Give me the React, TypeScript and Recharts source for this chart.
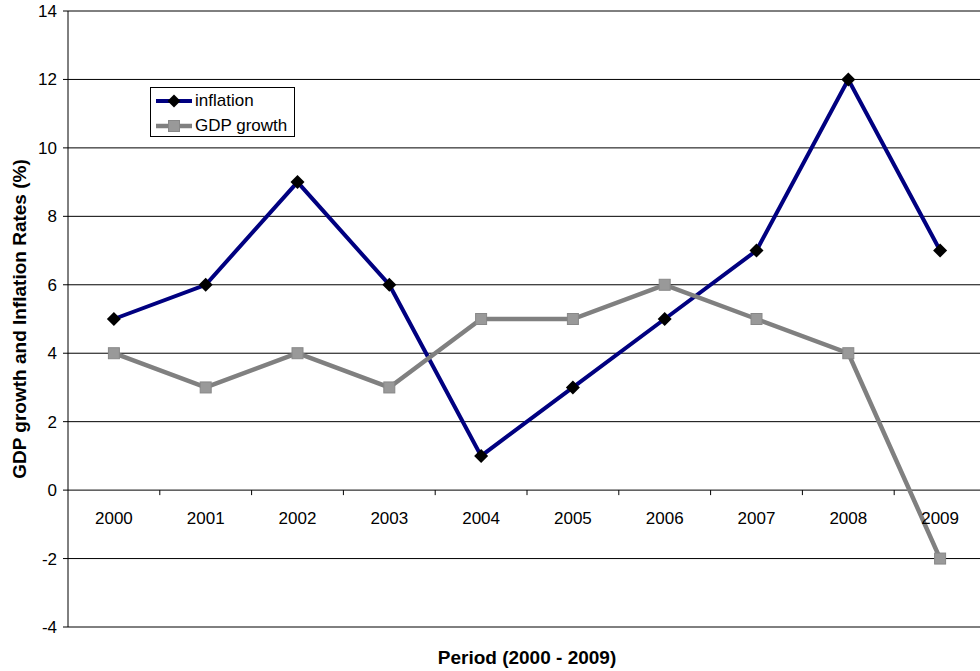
import React from 'react';
import { LineChart, Line, XAxis, YAxis, CartesianGrid, Legend } from 'recharts';

const years = ['2000', '2001', '2002', '2003', '2004', '2005', '2006', '2007', '2008', '2009'];
const inflation = [5, 6, 9, 6, 1, 3, 5, 7, 12, 7];
const gdpGrowth = [4, 3, 4, 3, 5, 5, 6, 5, 4, -2];
const yTicks = [-4, -2, 0, 2, 4, 6, 8, 10, 12, 14];

const data = years.map((y, i) => ({ year: y, inflation: inflation[i], gdp: gdpGrowth[i] }));

const FONT = '"Liberation Sans", Arial, sans-serif';
const W = 990;
const H = 671;
const M = { top: 11, right: 4, bottom: 0, left: 0 };
const X_AXIS_H = 44;
const Y_AXIS_W = 68;
const PLOT_H = H - M.top - M.bottom - X_AXIS_H;
const PLOT_W = W - M.left - M.right - Y_AXIS_W;
const Y_MIN = -4;
const Y_MAX = 14;
const HALF_BAND = PLOT_W / years.length / 2;
const ZERO_Y = M.top + (PLOT_H * (Y_MAX - 0)) / (Y_MAX - Y_MIN);

const NAVY = '#000080';
const GRAY = '#808080';

const Diamond = (props: any) => {
  const { cx, cy } = props;
  if (cx == null || cy == null) return null;
  const r = 7;
  return <polygon points={`${cx},${cy - r} ${cx + r},${cy} ${cx},${cy + r} ${cx - r},${cy}`} fill="#000" />;
};

const Square = (props: any) => {
  const { cx, cy } = props;
  if (cx == null || cy == null) return null;
  const s = 11;
  return <rect x={cx - s / 2} y={cy - s / 2} width={s} height={s} fill="#999999" stroke="#888888" strokeWidth={1} />;
};

const XTick = (props: any) => {
  const { x, index } = props;
  const last = index === years.length - 1;
  return (
    <g>
      <text x={x} y={ZERO_Y + 34} textAnchor="middle" fontSize={17} fontFamily={FONT} fill="#000">
        {props.payload.value}
      </text>
      {!last && (
        <line x1={x + HALF_BAND} x2={x + HALF_BAND} y1={ZERO_Y} y2={ZERO_Y + 5} stroke="#000" strokeWidth={1} />
      )}
    </g>
  );
};

const LegendContent = () => (
  <div
    style={{
      border: '1px solid #000',
      background: '#fff',
      width: 143,
      height: 48,
      fontFamily: FONT,
      fontSize: 17,
      color: '#000',
      boxSizing: 'content-box',
    }}
  >
    <div style={{ display: 'flex', alignItems: 'center', height: 25, paddingLeft: 5 }}>
      <svg width={36} height={14} style={{ marginRight: 3 }}>
        <line x1={0} x2={36} y1={7} y2={7} stroke={NAVY} strokeWidth={4} />
        <polygon points="18,0.5 24.5,7 18,13.5 11.5,7" fill="#000" />
      </svg>
      <span>inflation</span>
    </div>
    <div style={{ display: 'flex', alignItems: 'center', height: 25, paddingLeft: 5 }}>
      <svg width={36} height={14} style={{ marginRight: 3 }}>
        <line x1={0} x2={36} y1={7} y2={7} stroke={GRAY} strokeWidth={4.5} />
        <rect x={12.5} y={1.5} width={11} height={11} fill="#999999" stroke="#888888" />
      </svg>
      <span>GDP growth</span>
    </div>
  </div>
);

export default function App() {
  return (
    <div style={{ position: 'absolute', left: 0, top: 0, width: W, height: H, background: '#fff' }}>
      <LineChart width={W} height={H} data={data} margin={M}>
        <CartesianGrid horizontal vertical={false} stroke="#000" strokeWidth={1} />
        <XAxis
          dataKey="year"
          type="category"
          padding={{ left: HALF_BAND, right: HALF_BAND }}
          axisLine={false}
          tickLine={false}
          tick={<XTick />}
          interval={0}
          height={X_AXIS_H}
          label={{
            value: 'Period (2000 - 2009)',
            position: 'insideBottom',
            offset: 7,
            style: { fontFamily: FONT, fontSize: 19, fontWeight: 'bold', fill: '#000' },
          }}
        />
        <YAxis
          domain={[Y_MIN, Y_MAX]}
          ticks={yTicks}
          interval={0}
          width={Y_AXIS_W}
          axisLine={{ stroke: '#000', strokeWidth: 1 }}
          tickLine={{ stroke: '#000' }}
          tickSize={5}
          tickMargin={6}
          tick={{ fontFamily: FONT, fontSize: 17, fill: '#000' }}
          label={{
            value: 'GDP growth and Inflation Rates (%)',
            angle: -90,
            position: 'insideLeft',
            offset: 19,
            style: { textAnchor: 'middle', fontFamily: FONT, fontSize: 19, fontWeight: 'bold', fill: '#000' },
          }}
        />
        <Legend
          content={<LegendContent />}
          layout="horizontal"
          verticalAlign="middle"
          align="center"
          wrapperStyle={{ left: 150, top: 87, width: 145 }}
        />
        <Line
          type="linear"
          dataKey="inflation"
          name="inflation"
          stroke={NAVY}
          strokeWidth={4}
          dot={<Diamond />}
          activeDot={false}
          isAnimationActive={false}
        />
        <Line
          type="linear"
          dataKey="gdp"
          name="GDP growth"
          stroke={GRAY}
          strokeWidth={4.5}
          dot={<Square />}
          activeDot={false}
          isAnimationActive={false}
        />
      </LineChart>
    </div>
  );
}
